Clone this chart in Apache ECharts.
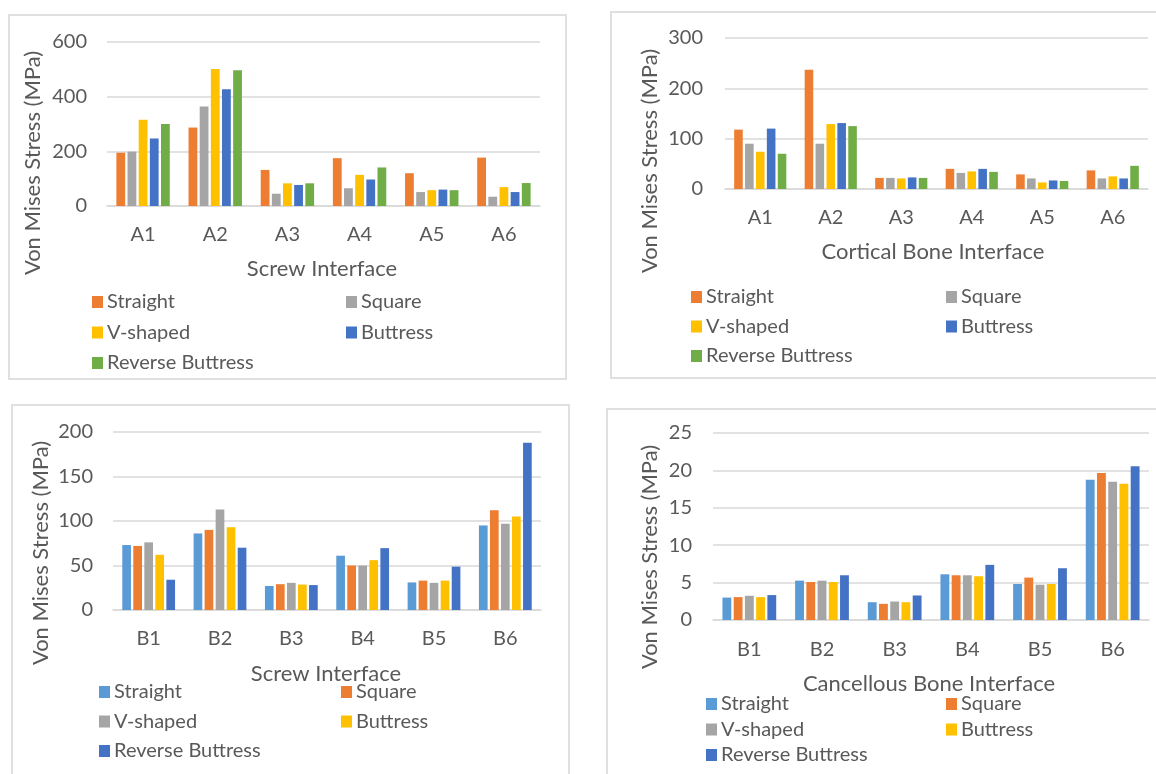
<!DOCTYPE html>
<html>
<head>
<meta charset="utf-8">
<script src="https://cdn.jsdelivr.net/npm/echarts@6/dist/echarts.min.js"></script>
<style>
  html, body { margin: 0; padding: 0; background: #ffffff; }
  #page { position: relative; width: 1156px; height: 774px; overflow: hidden; }
  .layer { position: absolute; left: 0; top: 0; width: 1156px; height: 774px; }
</style>
</head>
<body>
<div id="page">
  <div class="layer" id="p1"></div>
  <div class="layer" id="p2"></div>
  <div class="layer" id="p3"></div>
  <div class="layer" id="p4"></div>
</div>
<script>
// Thread profiles compared in every panel
const threadNames = ['Straight', 'Square', 'V-shaped', 'Buttress', 'Reverse Buttress'];

// Measurement locations
const locationsA = ['A1', 'A2', 'A3', 'A4', 'A5', 'A6'];
const locationsB = ['B1', 'B2', 'B3', 'B4', 'B5', 'B6'];

// Von Mises stress (MPa), A-locations, screw interface
const screwA_straight = [195, 287, 132, 175, 120, 177];
const screwA_square   = [199, 364, 45, 65, 51, 34];
const screwA_vshaped  = [316, 501, 83, 114, 58, 69];
const screwA_buttress = [247, 427, 77, 97, 60, 51];
const screwA_reverse  = [300, 497, 83, 141, 58, 84];

// Von Mises stress (MPa), A-locations, cortical bone interface
const cortical_straight = [118, 237, 22, 40, 29, 37];
const cortical_square   = [90, 90, 22, 32, 21, 21];
const cortical_vshaped  = [74, 129, 21, 35, 13, 25];
const cortical_buttress = [120, 131, 23, 40, 17, 21];
const cortical_reverse  = [70, 125, 22, 34, 16, 46];

// Von Mises stress (MPa), B-locations, screw interface
const screwB_straight = [73, 86, 27, 61, 31, 95];
const screwB_square   = [72, 90, 29, 50, 33, 112];
const screwB_vshaped  = [76, 113, 30.5, 50, 30.5, 97];
const screwB_buttress = [62, 93, 28.6, 56, 33, 105];
const screwB_reverse  = [34, 70, 28, 69.5, 48.7, 188];

// Von Mises stress (MPa), B-locations, cancellous bone interface
const cancellous_straight = [3.0, 5.26, 2.38, 6.11, 4.81, 18.75];
const cancellous_square   = [3.06, 5.08, 2.16, 5.98, 5.67, 19.65];
const cancellous_vshaped  = [3.24, 5.26, 2.47, 5.98, 4.72, 18.48];
const cancellous_buttress = [3.06, 5.08, 2.38, 5.85, 4.81, 18.21];
const cancellous_reverse  = [3.33, 5.98, 3.28, 7.37, 6.92, 20.55];

// Y-axis tick settings per panel
const ticksScrewA = { max: 600, interval: 200 };
const ticksCortical = { max: 300, interval: 100 };
const ticksScrewB = { max: 200, interval: 50 };
const ticksCancellous = { max: 25, interval: 5 };

const FONT = 'Lato';
const TEXT = '#595959';
const LINE = '#D9D9D9';
const paletteTop = ['#ED7D31', '#A5A5A5', '#FFC000', '#4472C4', '#70AD47'];
const paletteBottom = ['#5B9BD5', '#ED7D31', '#A5A5A5', '#FFC000', '#4472C4'];

function panelOption(p) {
  const series = p.values.map((vals, i) => ({
    name: threadNames[i],
    type: 'bar',
    data: vals,
    itemStyle: { color: p.palette[i] },
    barGap: '27%',
    barCategoryGap: '26%',
    animation: false
  }));
  const legendBase = {
    orient: 'vertical',
    icon: 'rect',
    itemWidth: 11,
    itemHeight: 12,
    padding: 0,
    selectedMode: false,
    textStyle: { color: TEXT, fontFamily: FONT, fontSize: 20, lineHeight: 22, padding: [0, 0, 0, -1] },
    itemGap: p.rowPitch - 22
  };
  return {
    animation: false,
    color: p.palette,
    textStyle: { fontFamily: FONT },
    grid: { left: p.grid[0], top: p.grid[1], width: p.grid[2], height: p.grid[3] },
    xAxis: {
      type: 'category',
      data: p.categories,
      axisLine: { lineStyle: { color: LINE, width: 1.5 } },
      axisTick: { show: false },
      axisLabel: { color: TEXT, fontFamily: FONT, fontSize: 20, margin: p.xMargin }
    },
    yAxis: {
      type: 'value',
      min: 0,
      max: p.ticks.max,
      interval: p.ticks.interval,
      axisLine: { show: false },
      axisTick: { show: false },
      splitLine: { lineStyle: { color: LINE, width: 1.5 } },
      axisLabel: { color: TEXT, fontFamily: FONT, fontSize: 20, margin: p.yMargin }
    },
    legend: [
      Object.assign({}, legendBase, {
        left: p.legendCols[0],
        top: p.legendTop - 11,
        data: [threadNames[0], threadNames[2], threadNames[4]]
      }),
      Object.assign({}, legendBase, {
        left: p.legendCols[1],
        top: p.legendTop - 11,
        data: [threadNames[1], threadNames[3]]
      })
    ],
    graphic: [
      {
        type: 'rect',
        shape: { x: p.frame[0], y: p.frame[1], width: p.frame[2], height: p.frame[3] },
        style: { fill: 'none', stroke: '#D6D6D6', lineWidth: 1.5 },
        silent: true,
        z: -1
      },
      {
        type: 'text',
        x: p.yTitle[0],
        y: p.yTitle[1],
        rotation: Math.PI / 2,
        style: {
          text: 'Von Mises Stress (MPa)',
          fill: TEXT,
          font: '22px ' + FONT,
          textAlign: 'center',
          textVerticalAlign: 'middle'
        },
        silent: true
      },
      {
        type: 'text',
        x: p.xTitle[0],
        y: p.xTitle[1],
        style: {
          text: p.xTitleText,
          fill: TEXT,
          font: '22px ' + FONT,
          textAlign: 'center',
          textVerticalAlign: 'middle'
        },
        silent: true
      }
    ],
    series: series
  };
}

const panels = [
  {
    id: 'p1',
    categories: locationsA,
    values: [screwA_straight, screwA_square, screwA_vshaped, screwA_buttress, screwA_reverse],
    palette: paletteTop,
    ticks: ticksScrewA,
    grid: [107, 42, 433, 164],
    frame: [9, 15, 557, 364],
    xMargin: 19, yMargin: 20,
    yTitle: [33, 163], xTitle: [322, 269], xTitleText: 'Screw Interface',
    legendCols: [92, 346], legendTop: 302, rowPitch: 30.5
  },
  {
    id: 'p2',
    categories: locationsA,
    values: [cortical_straight, cortical_square, cortical_vshaped, cortical_buttress, cortical_reverse],
    palette: paletteTop,
    ticks: ticksCortical,
    grid: [725, 38, 423, 151],
    frame: [611, 12, 560, 366],
    xMargin: 19, yMargin: 22,
    yTitle: [650, 161], xTitle: [933, 252], xTitleText: 'Cortical Bone Interface',
    legendCols: [691, 946], legendTop: 297, rowPitch: 29.5
  },
  {
    id: 'p3',
    categories: locationsB,
    values: [screwB_straight, screwB_square, screwB_vshaped, screwB_buttress, screwB_reverse],
    palette: paletteBottom,
    ticks: ticksScrewB,
    grid: [113, 432, 428, 178],
    frame: [12, 405, 557, 380],
    xMargin: 19, yMargin: 20,
    yTitle: [41, 553], xTitle: [326, 674], xTitleText: 'Screw Interface',
    legendCols: [99, 341], legendTop: 692, rowPitch: 29.5
  },
  {
    id: 'p4',
    categories: locationsB,
    values: [cancellous_straight, cancellous_square, cancellous_vshaped, cancellous_buttress, cancellous_reverse],
    palette: paletteBottom,
    ticks: ticksCancellous,
    grid: [713, 433, 436, 187],
    frame: [607, 409, 560, 380],
    xMargin: 20, yMargin: 21,
    yTitle: [650, 557], xTitle: [929, 684], xTitleText: 'Cancellous Bone Interface',
    legendCols: [706, 946], legendTop: 704, rowPitch: 25.5
  }
];

panels.forEach(p => {
  const chart = echarts.init(document.getElementById(p.id), null, { renderer: 'canvas' });
  chart.setOption(panelOption(p));
});
</script>
</body>
</html>
